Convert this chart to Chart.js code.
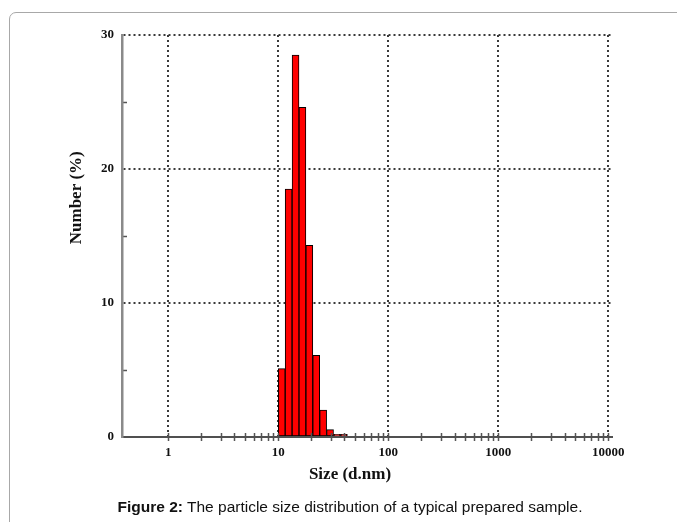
<!DOCTYPE html>
<html>
<head>
<meta charset="utf-8">
<script src="https://cdn.jsdelivr.net/npm/chart.js@4.4.1/dist/chart.umd.min.js"></script>
<style>
  html, body { margin: 0; padding: 0; background: #fff; }
  body { width: 677px; height: 522px; position: relative; overflow: hidden; }
  .panel {
    position: absolute; left: 9px; top: 12px; width: 720px; height: 600px;
    border: 1px solid #a8a8a8; border-radius: 7px; box-sizing: border-box;
  }
  #wrap { position: absolute; left: 0; top: 0; width: 677px; height: 522px; }
  .caption {
    position: absolute; left: 0; top: 497px; width: 700px; text-align: center;
    font-family: "Liberation Sans", Arial, sans-serif; font-size: 15.5px; line-height: 20px; color: #111;
  }
  .caption b { font-weight: bold; }
</style>
</head>
<body>
<div class="panel"></div>
<div id="wrap"><canvas id="sizeChart" width="677" height="522"></canvas></div>
<div class="caption"><b>Figure 2:</b> The particle size distribution of a typical prepared sample.</div>

<script>
// size classes (d.nm, bin centres) and number distribution (%)
const sizeBins = [10.75, 12.42, 14.36, 16.59, 19.17, 22.15, 25.60, 29.58, 34.19, 39.51];
const numberPct = [5.1, 18.5, 28.5, 24.6, 14.3, 6.1, 2.0, 0.55, 0.2, 0.2];

// axis ticks
const xTickValues = [1, 10, 100, 1000, 10000];
const xMinorSteps = [1, 2, 3, 4, 5, 6, 7, 8, 9];
const yMinorValues = [5, 15, 25];

const serif = '"Liberation Serif", "Times New Roman", serif';
const dotColor = '#3a3a3a';

// tick marks that cross the axis lines, like the instrument's plot
const crossTicks = {
  id: 'crossTicks',
  afterDatasetsDraw(chart) {
    const { ctx, scales: { x, y }, chartArea } = chart;
    ctx.save();
    ctx.strokeStyle = '#555';
    ctx.lineWidth = 1.5;
    ctx.beginPath();
    xTickValues.forEach(function (dec, i) {
      const steps = i === xTickValues.length - 1 ? [1] : xMinorSteps;
      steps.forEach(function (m) {
        const px = Math.round(x.getPixelForValue(dec * m)) + 0.5;
        ctx.moveTo(px, chartArea.bottom - 4);
        ctx.lineTo(px, chartArea.bottom + 4);
      });
    });
    yMinorValues.forEach(function (v) {
      const py = Math.round(y.getPixelForValue(v)) + 0.5;
      ctx.moveTo(chartArea.left, py);
      ctx.lineTo(chartArea.left + 5, py);
    });
    ctx.stroke();
    ctx.restore();
  }
};

const ctx = document.getElementById('sizeChart').getContext('2d');
new Chart(ctx, {
  type: 'bar',
  data: {
    datasets: [{
      label: 'Number (%)',
      data: sizeBins.map(function (s, i) { return { x: s, y: numberPct[i] }; }),
      backgroundColor: '#ff0000',
      borderColor: '#000',
      borderWidth: 1,
      borderSkipped: false,
      barPercentage: 1,
      categoryPercentage: 1
    }]
  },
  options: {
    responsive: false,
    animation: false,
    devicePixelRatio: 1,
    layout: { padding: { left: 58, right: 65, top: 35, bottom: 35 } },
    plugins: { legend: { display: false }, tooltip: { enabled: false } },
    scales: {
      x: {
        type: 'logarithmic',
        min: 0.38,
        max: 10800,
        offset: false,
        afterBuildTicks: function (s) { s.ticks = xTickValues.map(function (v) { return { value: v }; }); },
        afterFit: function (s) { s.height = 50; },
        grid: { offset: false, drawTicks: false, color: dotColor, lineWidth: 2 },
        border: { color: '#505050', width: 2, dash: [2, 3], z: 1 },
        ticks: {
          color: '#111', padding: 8, maxRotation: 0, autoSkip: false,
          font: { family: serif, size: 13, weight: 'bold' },
          callback: function (v) { return String(v); }
        },
        title: {
          display: true, text: 'Size (d.nm)' + ' '.repeat(8), color: '#111',
          font: { family: serif, size: 17, weight: 'bold' }, padding: { top: 0, bottom: 2 }
        }
      },
      y: {
        min: 0,
        max: 30,
        afterFit: function (s) { s.width = 64; },
        grid: {
          drawTicks: false, lineWidth: 2,
          color: function (c) { return c.tick && c.tick.value > 0 && c.tick.value % 10 === 0 ? dotColor : 'rgba(0,0,0,0)'; }
        },
        border: { color: '#8a8a8a', width: 2.5, dash: [2, 3], z: 1 },
        ticks: {
          stepSize: 5, color: '#111', padding: 8,
          font: { family: serif, size: 13, weight: 'bold' },
          callback: function (v) { return v % 10 === 0 ? v : ''; }
        },
        title: {
          display: true, text: ' '.repeat(18) + 'Number (%)', color: '#111',
          font: { family: serif, size: 17, weight: 'bold' }, padding: { top: 8, bottom: 0 }
        }
      }
    }
  },
  plugins: [crossTicks]
});
</script>
</body>
</html>
